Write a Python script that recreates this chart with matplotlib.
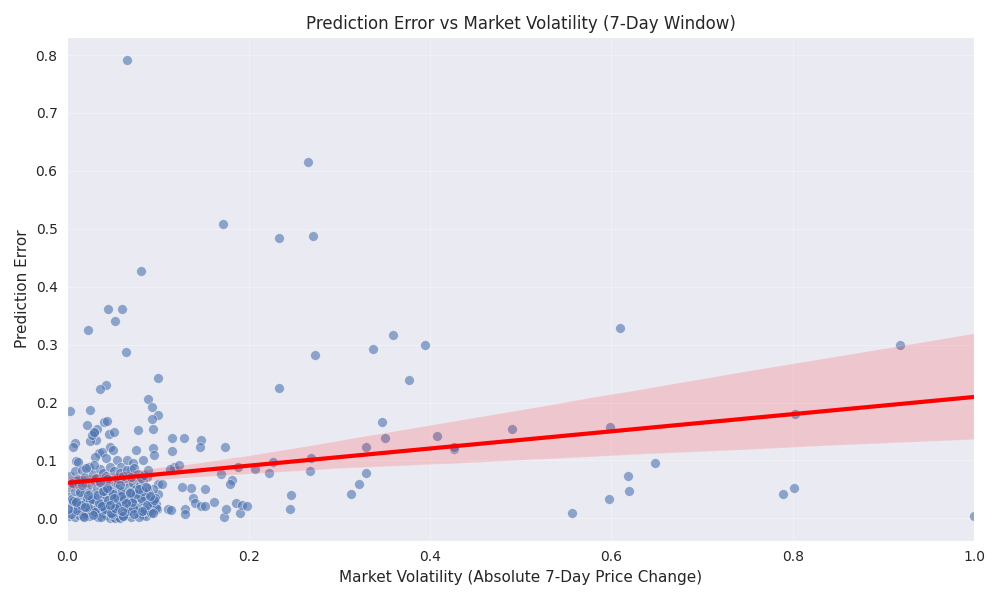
import matplotlib
matplotlib.use("Agg")
import matplotlib.pyplot as plt
import seaborn as sns
import numpy as np

# Sparse / outlying points (volatility, error)
sparse_x = [0.066, 0.265, 0.172, 0.233, 0.271, 0.081, 0.045, 0.060, 0.053, 0.023,
            0.065, 0.273, 0.359, 0.337, 0.394, 0.377, 0.233, 0.610, 0.918, 0.043,
            0.036, 0.100, 0.089, 0.093, 0.100, 0.003, 0.025, 0.040, 0.044, 0.022,
            0.093, 0.347, 0.408, 0.350, 0.329, 0.427, 0.427, 0.490, 0.599, 0.803,
            0.116, 0.129, 0.148, 0.174, 0.116, 0.146, 0.095, 0.095, 0.096, 0.008,
            0.006, 0.010, 0.032, 0.033, 0.029, 0.618, 0.648, 0.620, 0.598, 0.557,
            0.789, 0.802, 1.000, 0.313, 0.322, 0.329, 0.268, 0.269, 0.247, 0.246,
            0.222, 0.227, 0.207, 0.188, 0.169, 0.182, 0.179, 0.152, 0.136, 0.126,
            0.139, 0.141, 0.147, 0.152, 0.162, 0.130, 0.130, 0.173, 0.175, 0.190,
            0.186, 0.193, 0.198, 0.111, 0.114, 0.100, 0.105, 0.118, 0.123, 0.113,
            0.100, 0.095, 0.098, 0.090, 0.099]
sparse_y = [0.791, 0.615, 0.508, 0.484, 0.487, 0.427, 0.361, 0.361, 0.340, 0.325,
            0.287, 0.282, 0.316, 0.292, 0.299, 0.239, 0.226, 0.328, 0.300, 0.230,
            0.223, 0.242, 0.206, 0.192, 0.178, 0.185, 0.187, 0.166, 0.168, 0.161,
            0.171, 0.166, 0.143, 0.138, 0.123, 0.119, 0.124, 0.155, 0.157, 0.181,
            0.138, 0.138, 0.135, 0.124, 0.117, 0.123, 0.121, 0.154, 0.109, 0.131,
            0.124, 0.099, 0.136, 0.154, 0.147, 0.074, 0.095, 0.047, 0.033, 0.009,
            0.043, 0.052, 0.005, 0.043, 0.060, 0.079, 0.081, 0.104, 0.041, 0.017,
            0.079, 0.098, 0.086, 0.088, 0.076, 0.066, 0.060, 0.050, 0.052, 0.054,
            0.036, 0.026, 0.022, 0.021, 0.028, 0.017, 0.007, 0.002, 0.017, 0.010,
            0.026, 0.024, 0.021, 0.017, 0.014, 0.060, 0.060, 0.088, 0.093, 0.085,
            0.043, 0.050, 0.025, 0.019, 0.016]

# Dense cluster near the origin
dense_x = [0.012, 0.025, 0.027, 0.030, 0.035, 0.038, 0.046, 0.047, 0.050, 0.052,
           0.031, 0.043, 0.055, 0.059, 0.066, 0.072, 0.076, 0.078, 0.083, 0.088, 0.070,
           0.002, 0.008, 0.013, 0.019, 0.024, 0.029, 0.034, 0.038, 0.043, 0.047,
           0.050, 0.053, 0.056, 0.058, 0.064, 0.070, 0.077, 0.083, 0.087, 0.090,
           0.009, 0.026, 0.041, 0.054, 0.068,
           0.003, 0.007, 0.012, 0.016, 0.021, 0.025, 0.028, 0.032, 0.036, 0.040,
           0.045, 0.049, 0.052, 0.057, 0.061, 0.066, 0.072, 0.075, 0.080, 0.085,
           0.089, 0.094, 0.098, 0.020,
           0.001, 0.005, 0.010, 0.014, 0.018, 0.022, 0.026, 0.030, 0.034, 0.037,
           0.041, 0.044, 0.048, 0.051, 0.055, 0.059, 0.063, 0.067, 0.071, 0.074,
           0.078, 0.082, 0.086, 0.090, 0.093, 0.097, 0.040, 0.025,
           0.002, 0.006, 0.009, 0.013, 0.017, 0.021, 0.025, 0.029, 0.033, 0.036,
           0.040, 0.044, 0.048, 0.052, 0.056, 0.060, 0.064, 0.068, 0.072, 0.076,
           0.080, 0.084, 0.088, 0.011, 0.046,
           0.003, 0.008, 0.012, 0.016, 0.020, 0.024, 0.028, 0.032, 0.036, 0.039,
           0.043, 0.047, 0.051, 0.055, 0.058, 0.062, 0.066, 0.070, 0.074, 0.078,
           0.081, 0.085, 0.089, 0.030, 0.044, 0.021,
           0.004, 0.011, 0.017, 0.023, 0.031, 0.037, 0.042, 0.049, 0.054, 0.061,
           0.067, 0.073, 0.079, 0.086, 0.092, 0.006, 0.015, 0.027, 0.035, 0.045,
           0.057, 0.063, 0.071, 0.081, 0.088, 0.096, 0.014, 0.033, 0.039, 0.050,
           0.059, 0.069, 0.076, 0.084, 0.091, 0.018, 0.028, 0.048, 0.062, 0.074,
           0.001, 0.010, 0.019, 0.038, 0.053, 0.065, 0.082, 0.095, 0.023, 0.044,
           0.051, 0.058, 0.069, 0.079, 0.087, 0.005, 0.016, 0.036, 0.047, 0.060]
dense_y = [0.098, 0.134, 0.144, 0.150, 0.113, 0.114, 0.146, 0.124, 0.118, 0.150,
           0.106, 0.105, 0.100, 0.089, 0.101, 0.095, 0.118, 0.153, 0.101, 0.072, 0.084,
           0.004, 0.002, 0.006, 0.009, 0.004, 0.008, 0.003, 0.010, 0.006, 0.001,
           0.002, 0.001, 0.003, 0.001, 0.008, 0.002, 0.009, 0.006, 0.005, 0.012,
           0.012, 0.012, 0.014, 0.011, 0.013,
           0.020, 0.016, 0.023, 0.013, 0.026, 0.015, 0.020, 0.017, 0.025, 0.014,
           0.022, 0.018, 0.027, 0.015, 0.021, 0.018, 0.025, 0.014, 0.020, 0.013,
           0.023, 0.027, 0.018, 0.010,
           0.038, 0.034, 0.030, 0.041, 0.027, 0.036, 0.044, 0.032, 0.039, 0.028,
           0.043, 0.034, 0.040, 0.029, 0.037, 0.045, 0.032, 0.026, 0.041, 0.035,
           0.044, 0.031, 0.037, 0.042, 0.029, 0.035, 0.043, 0.031,
           0.054, 0.062, 0.048, 0.057, 0.064, 0.051, 0.059, 0.066, 0.053, 0.062,
           0.048, 0.056, 0.065, 0.052, 0.060, 0.047, 0.064, 0.055, 0.062, 0.050,
           0.058, 0.066, 0.053, 0.064, 0.049,
           0.074, 0.081, 0.068, 0.084, 0.072, 0.088, 0.077, 0.069, 0.086, 0.079,
           0.073, 0.089, 0.082, 0.070, 0.078, 0.074, 0.083, 0.071, 0.087, 0.076,
           0.070, 0.075, 0.084, 0.093, 0.068, 0.087,
           0.007, 0.015, 0.005, 0.019, 0.011, 0.003, 0.017, 0.008, 0.021, 0.004,
           0.012, 0.018, 0.002, 0.014, 0.009, 0.030, 0.024, 0.033, 0.027, 0.031,
           0.025, 0.034, 0.029, 0.036, 0.023, 0.032, 0.045, 0.041, 0.048, 0.043,
           0.039, 0.046, 0.042, 0.047, 0.038, 0.003, 0.006, 0.010, 0.005, 0.007,
           0.016, 0.028, 0.020, 0.022, 0.018, 0.027, 0.013, 0.009, 0.040, 0.052,
           0.035, 0.057, 0.044, 0.051, 0.055, 0.061, 0.058, 0.063, 0.024, 0.012]

volatility = np.array(sparse_x + dense_x)
pred_error = np.array(sparse_y + dense_y)

sns.set_style("darkgrid")
fig, ax = plt.subplots(figsize=(10, 6), dpi=100)
sns.regplot(x=volatility, y=pred_error, ax=ax, seed=0, color="#4C72B0",
            scatter_kws={"alpha": 0.6, "s": 50, "edgecolor": "white", "linewidths": 0.5},
            line_kws={"color": "red", "linewidth": 3})
ax.set_xlim(0, 1.0)
ax.grid(True, alpha=0.3)
ax.set_title("Prediction Error vs Market Volatility (7-Day Window)", fontsize=12)
ax.set_xlabel("Market Volatility (Absolute 7-Day Price Change)", fontsize=11)
ax.set_ylabel("Prediction Error", fontsize=11)
fig.tight_layout()
fig.savefig("out.png")
